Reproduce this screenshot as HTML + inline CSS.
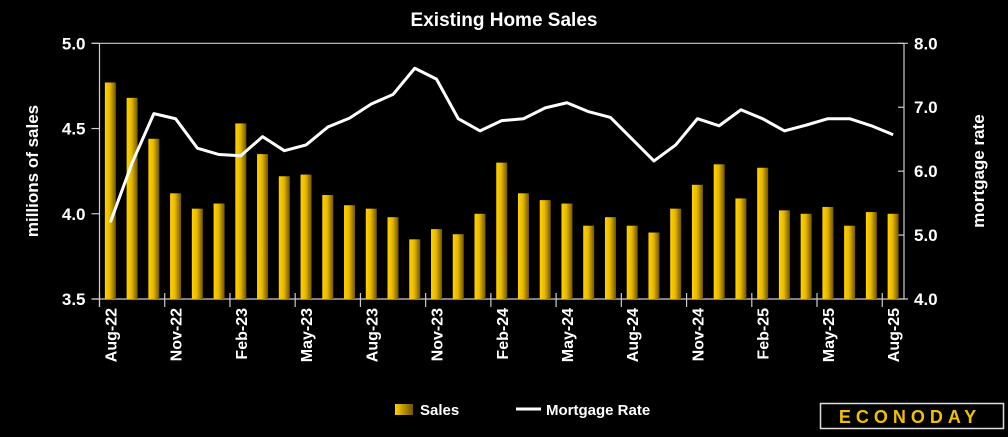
<!DOCTYPE html>
<html><head><meta charset="utf-8"><style>
body{margin:0;background:#000;width:1008px;height:432px;overflow:hidden;font-family:"Liberation Sans",sans-serif;}
svg text{font-family:"Liberation Sans",sans-serif;fill:#fff;font-weight:bold;}
</style></head><body>
<svg id="chart" width="1008" height="432">
<defs>
<linearGradient id="bg" x1="0" x2="1" y1="0" y2="0">
<stop offset="0" stop-color="#ffd200"/><stop offset="0.45" stop-color="#e8b800"/><stop offset="1" stop-color="#6e5500"/>
</linearGradient>
<linearGradient id="lg" x1="0" x2="1" y1="0" y2="0">
<stop offset="0" stop-color="#ffd200"/><stop offset="1" stop-color="#6e5500"/>
</linearGradient>
</defs>
<text x="504" y="26" text-anchor="middle" font-size="19">Existing Home Sales</text>
<g id="plot"></g>
<text transform="translate(38,171) rotate(-90)" text-anchor="middle" font-size="17">millions of sales</text>
<text transform="translate(984,171) rotate(-90)" text-anchor="middle" font-size="17">mortgage rate</text>
<g>
<rect x="395" y="404" width="18" height="11" fill="url(#lg)"/>
<text x="420" y="415" font-size="15">Sales</text>
<line x1="516" y1="409" x2="541" y2="409" stroke="#fff" stroke-width="3"/>
<text x="546" y="415" font-size="15">Mortgage Rate</text>
</g>
<g>
<rect x="820.5" y="403.5" width="183" height="25" fill="#000" stroke="#ddd" stroke-width="1.5"/>
<text x="910" y="423" text-anchor="middle" font-size="18" letter-spacing="5" style="fill:#f0c000">ECONODAY</text>
</g>
</svg>
<script>
const categories=["Aug-22","Sep-22","Oct-22","Nov-22","Dec-22","Jan-23","Feb-23","Mar-23","Apr-23","May-23","Jun-23","Jul-23","Aug-23","Sep-23","Oct-23","Nov-23","Dec-23","Jan-24","Feb-24","Mar-24","Apr-24","May-24","Jun-24","Jul-24","Aug-24","Sep-24","Oct-24","Nov-24","Dec-24","Jan-25","Feb-25","Mar-25","Apr-25","May-25","Jun-25","Jul-25","Aug-25"];
const sales=[4.77,4.68,4.44,4.12,4.03,4.06,4.53,4.35,4.22,4.23,4.11,4.05,4.03,3.98,3.85,3.91,3.88,4.00,4.30,4.12,4.08,4.06,3.93,3.98,3.93,3.89,4.03,4.17,4.29,4.09,4.27,4.02,4.00,4.04,3.93,4.01,4.00];
const mortgage=[5.20,6.13,6.90,6.82,6.36,6.26,6.24,6.54,6.32,6.41,6.69,6.83,7.05,7.20,7.61,7.44,6.82,6.63,6.79,6.82,6.99,7.07,6.93,6.84,6.50,6.16,6.41,6.82,6.71,6.96,6.82,6.63,6.72,6.82,6.82,6.71,6.57];
const leftTicks=[3.5,4.0,4.5,5.0];
const rightTicks=[4.0,5.0,6.0,7.0,8.0];
const L=99.5,R=904,T=43.3,B=299;
const band=(R-L)/categories.length;
const xc=i=>L+(i+0.5)*band;
const yL=v=>B-(v-3.5)/1.5*(B-T);
const yR=v=>B-(v-4)/4*(B-T);
const g=document.getElementById('plot');
const NS='http://www.w3.org/2000/svg';
function mk(t,a){const e=document.createElementNS(NS,t);for(const k in a)e.setAttribute(k,a[k]);g.appendChild(e);return e;}
let e=mk('line',{x1:L-8,y1:T,x2:R+4,y2:T,stroke:'#ccc','stroke-width':1.2});


e=mk('line',{x1:L-8,y1:B,x2:R+4,y2:B,stroke:'#ccc','stroke-width':1.2});


e=mk('line',{x1:L,y1:T,x2:L,y2:B+8,stroke:'#ccc','stroke-width':1.2});


e=mk('line',{x1:R,y1:T,x2:R,y2:B,stroke:'#ccc','stroke-width':1.2});


leftTicks.forEach(v=>{
 const t=mk('line',{x1:L-8,y1:yL(v),x2:L,y2:yL(v),stroke:'#ccc','stroke-width':1.2});
 
 
 const tx=mk('text',{x:L-14,y:yL(v)+6,'text-anchor':'end','font-size':17});
 tx.textContent=v.toFixed(1);
 
 
});
rightTicks.forEach(v=>{
 const t=mk('line',{x1:R-6,y1:yR(v),x2:R,y2:yR(v),stroke:'#ccc','stroke-width':1.2});
 
 
 const tx=mk('text',{x:R+10,y:yR(v)+6,'text-anchor':'start','font-size':17});
 tx.textContent=v.toFixed(1);
 
 
});
sales.forEach((v,i)=>{
 const b=mk('rect',{x:xc(i)-5.5,y:yL(v),width:11,height:B-yL(v),fill:'url(#bg)'});
 
 
});
categories.forEach((c,i)=>{
 if(i%3!==0)return;
 const t=mk('line',{x1:L+i*band,y1:B-6,x2:L+i*band,y2:B+8,stroke:'#ccc','stroke-width':1.2});
 
 
 const tx=mk('text',{transform:`translate(${xc(i)+6},${B+9}) rotate(-90)`,'text-anchor':'end','font-size':16});
 tx.textContent=c;
 
 
});
const ln=mk('polyline',{points:mortgage.map((v,i)=>xc(i)+','+yR(v)).join(' '),fill:'none',stroke:'#fff','stroke-width':3,'stroke-linejoin':'round'});


</script>
</body></html>
